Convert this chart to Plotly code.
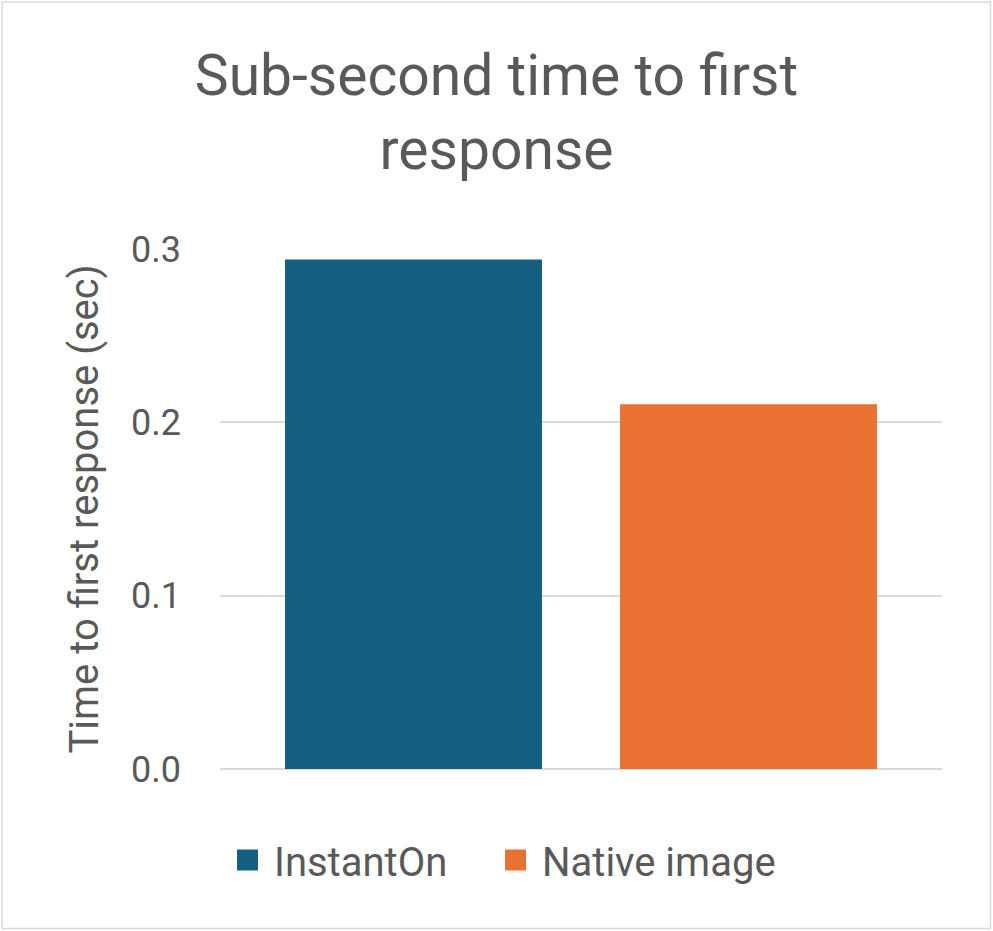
import plotly.graph_objects as go

series_names = ["InstantOn", "Native image"]
series_values = [0.294, 0.2105]
series_colors = ["#156082", "#E97132"]
category = [""]
y_ticks = [0.0, 0.1, 0.2, 0.3]
y_tick_labels = ["0.0", "0.1", "0.2", "0.3"]

W, H = 993, 931
ml, mr, mt, mb = 220, 51, 249, 162
text_color = "#595959"
font_family = "Roboto, sans-serif"
legend_ids = ["legend", "legend2"]
legend_left_px = [221, 489]

fig = go.Figure()
for name, val, col in zip(series_names, series_values, series_colors):
    fig.add_trace(go.Bar(name=name, x=category, y=[val], showlegend=False,
                         marker=dict(color=col, line=dict(width=0))))
# legend entries with larger square swatches
for name, col, lid in zip(series_names, series_colors, legend_ids):
    fig.add_trace(go.Scatter(name=name, x=category, y=[None], mode="markers", legend=lid,
                             marker=dict(symbol="square", size=20, color=col,
                                         line=dict(color=col, width=5)),
                             hoverinfo="skip"))

pw = W - ml - mr
ph = H - mt - mb
fig.add_shape(type="rect", xref="paper", yref="paper",
              x0=-(ml - 2) / pw, x1=1 + (mr - 2.5) / pw,
              y0=-(mb - 2.5) / ph, y1=1 + (mt - 2) / ph,
              line=dict(color="#d9d9d9", width=1.5), fillcolor="rgba(0,0,0,0)", layer="below")

legend_common = dict(orientation="h", xref="container", xanchor="left",
                     y=(H - 860) / H, yref="container", yanchor="middle",
                     font=dict(size=40, color=text_color), itemwidth=43,
                     bgcolor="rgba(0,0,0,0)")

fig.update_layout(
    width=W, height=H,
    margin=dict(l=ml, r=mr, t=mt, b=mb),
    paper_bgcolor="white", plot_bgcolor="white",
    barmode="group", bargap=0.072, bargroupgap=0.233,
    font=dict(family=font_family, color=text_color, size=36),
    title=dict(text="Sub-second time to first<br>response", x=0.5, xref="container", xanchor="center",
               y=1 - 95 / H, yref="container", yanchor="top",
               font=dict(size=57, color=text_color, family=font_family)),
    xaxis=dict(showticklabels=False, showgrid=False, zeroline=False, showline=False, ticks=""),
    yaxis=dict(range=[0, 0.3], tickvals=y_ticks, ticktext=y_tick_labels,
               showgrid=True, gridcolor="#d9d9d9", gridwidth=1.5,
               zeroline=True, zerolinecolor="#d9d9d9", zerolinewidth=1.5,
               showline=False, ticks="", ticklabelstandoff=38,
               tickfont=dict(size=36, color=text_color),
               title=dict(text="Time to first response (sec)", standoff=20,
                          font=dict(size=40, color=text_color))),
    legend=dict(x=legend_left_px[0] / W, **legend_common),
    legend2=dict(x=legend_left_px[1] / W, **legend_common),
    showlegend=True,
)

fig.write_html("out.html", config={"displayModeBar": False},
               post_script="document.body.style.margin='0';document.body.style.overflow='hidden';")
